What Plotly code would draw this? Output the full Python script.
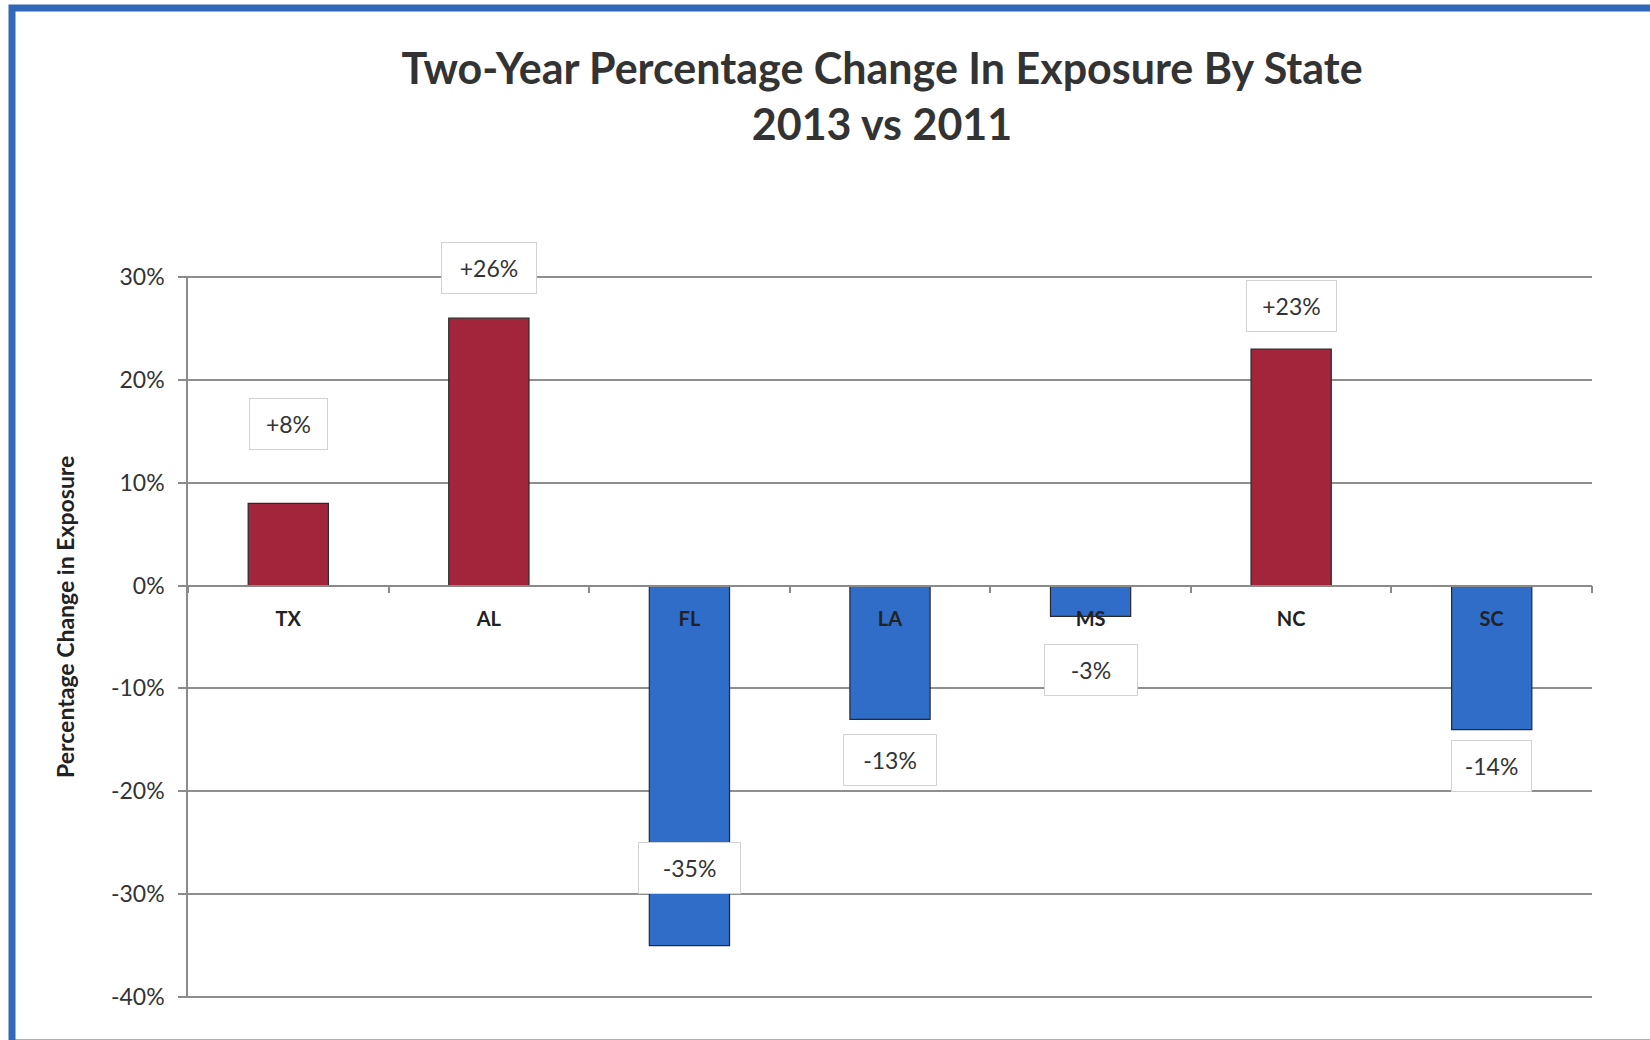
import plotly.graph_objects as go

# Two-year change in exposure, 2013 vs 2011
states = ["TX", "AL", "FL", "LA", "MS", "NC", "SC"]
pct_change = [8, 26, -35, -13, -3, 23, -14]
value_labels = ["+8%", "+26%", "-35%", "-13%", "-3%", "+23%", "-14%"]
y_ticks = [30, 20, 10, 0, -10, -20, -30, -40]
y_tick_text = ["30%", "20%", "10%", "0%", "-10%", "-20%", "-30%", "-40%"]

# pixel offset of each value box from its bar end, and its text-area width
label_shift = [79, 50, 78, -41, -54, 43, -36]
label_w = [53, 70, 77, 68, 68, 65, 55]

RED = "#A2253B"
BLUE = "#2F6DC8"
bar_colors = [RED if v >= 0 else BLUE for v in pct_change]

FONT = "Lato"
W, H = 1650, 1040
L, R, T, B = 188, 58, 276, 42
PW, PH = W - L - R, H - T - B
Y_LO, Y_HI = -40.1, 30.1


def px_x(px):
    return (px - L) / PW


def px_y(py):
    return (H - B - py) / PH


fig = go.Figure(
    go.Bar(
        x=states,
        y=pct_change,
        width=0.4,
        marker=dict(color=bar_colors, line=dict(color="#2a2a2a", width=1.2)),
        hoverinfo="x+y",
    )
)

for s, v, txt, dy, w in zip(states, pct_change, value_labels, label_shift, label_w):
    fig.add_annotation(
        x=s, y=v, yshift=dy, text=txt, showarrow=False,
        font=dict(family=FONT, size=23, color="#333333"),
        bgcolor="white", bordercolor="#d2d2d2", borderwidth=1,
        borderpad=12, width=w, height=26,
    )

# y-axis title
fig.add_annotation(
    xref="paper", yref="paper", x=px_x(65), y=px_y(617),
    xanchor="center", yanchor="middle",
    text="<b>Percentage Change in Exposure</b>", textangle=-90,
    showarrow=False, font=dict(family=FONT, size=23, color="#222222"),
)

# blue frame around the chart
fig.add_shape(
    type="rect", xref="paper", yref="paper",
    x0=px_x(12), x1=px_x(1670), y0=px_y(1043), y1=px_y(8),
    line=dict(color="#3068BA", width=7), fillcolor="rgba(0,0,0,0)",
    layer="above",
)

fig.update_layout(
    width=W, height=H,
    margin=dict(l=L, r=R, t=T, b=B),
    paper_bgcolor="white", plot_bgcolor="white",
    showlegend=False,
    title=dict(
        text="<b>Two-Year Percentage Change In Exposure By State<br>2013 vs 2011</b>",
        x=px_x(882), xref="paper", xanchor="center",
        y=1 - 84 / H, yref="container", yanchor="top",
        font=dict(family=FONT, size=43, color="#333333"),
    ),
    font=dict(family=FONT, color="#333333"),
)

fig.update_xaxes(
    type="category",
    anchor="free", position=-Y_LO / (Y_HI - Y_LO),
    showline=True, linecolor="#8a8a8a", linewidth=1.5,
    ticks="outside", tickson="boundaries", ticklen=7,
    tickcolor="#8a8a8a", tickwidth=1.5,
    showgrid=False,
    tickfont=dict(family=FONT, size=20, color="#222222", weight="bold"),
    ticklabelstandoff=16,
    layer="above traces",
)

fig.update_yaxes(
    range=[Y_LO, Y_HI],
    tickvals=y_ticks, ticktext=y_tick_text,
    showline=True, linecolor="#8a8a8a", linewidth=1.5,
    ticks="outside", ticklen=8, tickcolor="#8a8a8a", tickwidth=1.5,
    showgrid=True, gridcolor="#8f8f8f", gridwidth=1.5,
    zeroline=False,
    tickfont=dict(family=FONT, size=23, color="#333333"),
    ticklabelstandoff=9,
)

fig.write_html("out.html")
